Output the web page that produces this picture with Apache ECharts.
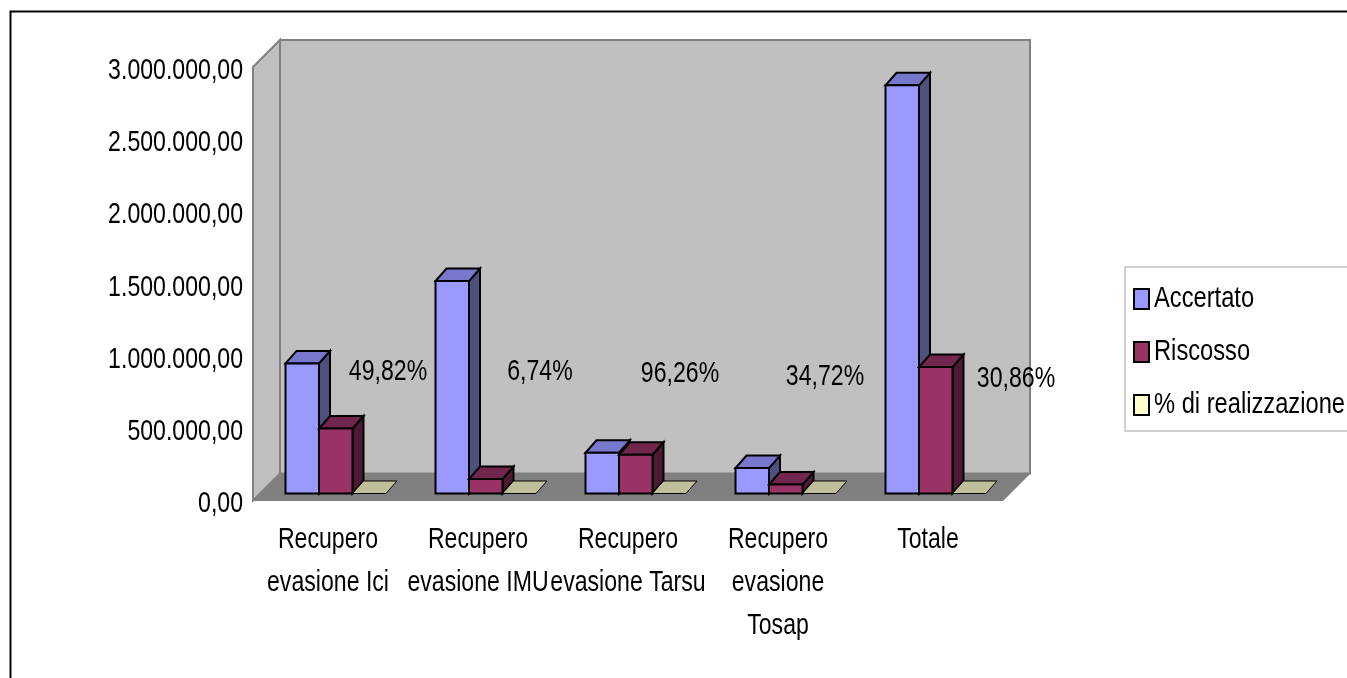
<!DOCTYPE html>
<html>
<head>
<meta charset="utf-8">
<style>html,body{margin:0;padding:0;background:#fff;overflow:hidden}#c{width:1347px;height:678px}</style>
<script src="https://cdn.jsdelivr.net/npm/echarts@6/dist/echarts.min.js"></script>
</head>
<body>
<div id="c"></div>
<script>
var categories = ['Recupero\nevasione Ici', 'Recupero\nevasione IMU', 'Recupero\nevasione Tarsu', 'Recupero\nevasione\nTosap', 'Totale'];
var seriesNames = ['Accertato', 'Riscosso', '% di realizzazione'];
var accertato = [900000, 1470000, 282000, 176000, 2825000];
var riscosso = [450000, 100000, 268000, 62000, 875000];
var realizzazione = [49.82, 6.74, 96.26, 34.72, 30.86];

var FONT = '"Liberation Sans",Arial,sans-serif';
var FS = 30;
var TEXT_SQUEEZE = 0.77, LEGEND_SQUEEZE = 0.79, YLABEL_SHIFT = 3.5;
var pctLabelDx = [60, 62, 52, 47, 88];
var pctLabelY = [372, 372, 374, 377, 379];
var DEPTH_WALL = 27, BAR_DX = 11, BAR_DY = 12.5, BASE_DY = 7, GROUP_LEFT = 0.2833, BAR_W = 0.2233;

function pctText(v) { return v.toFixed(2).replace('.', ',') + '%'; }
function itNum(v) {
  var s = String(Math.round(v)).replace(/\B(?=(\d{3})+$)/g, '.');
  return s + ',00';
}
function poly(points, fill, stroke, lw) {
  return { type: 'polygon', shape: { points: points }, style: { fill: fill, stroke: stroke || null, lineWidth: lw || 0, lineJoin: 'miter' } };
}
function barRenderer(k, front, top, side) {
  return function (params, api) {
    var i = api.value(0), v = api.value(1);
    var p0 = api.coord([i, 0]), p1 = api.coord([i, v]);
    var band = api.size([1, 0])[0];
    var w = band * BAR_W;
    var x0 = p0[0] - band * GROUP_LEFT + k * w, x1 = x0 + w;
    var yb = p0[1] - BASE_DY, yt = p1[1] - BASE_DY;
    var dx = BAR_DX, dy = BAR_DY;
    return { type: 'group', children: [
      poly([[x1, yb], [x1 + dx, yb - dy], [x1 + dx, yt - dy], [x1, yt]], side, '#000', 2),
      poly([[x0, yt], [x1, yt], [x1 + dx, yt - dy], [x0 + dx, yt - dy]], top, '#000', 2),
      poly([[x0, yb], [x1, yb], [x1, yt], [x0, yt]], front, '#000', 2)
    ] };
  };
}
function wallRenderer(params, api) {
  var cs = params.coordSys;
  var l = cs.x, r = cs.x + cs.width, t = cs.y, b = cs.y + cs.height, d = DEPTH_WALL;
  return { type: 'group', children: [
    poly([[l, t], [l + d, t - d], [l + d, b - d], [l, b]], '#C0C0C0', '#808080', 2),
    poly([[l + d, t - d], [r + d, t - d], [r + d, b - d], [l + d, b - d]], '#C0C0C0', '#808080', 2),
    poly([[l, b], [l + d, b - d], [r + d, b - d], [r, b]], '#808080', '#808080', 1)
  ] };
}
function pctRenderer(params, api) {
  var i = api.value(0), v = api.value(1);
  var p0 = api.coord([i, 0]), p1 = api.coord([i, v]);
  var band = api.size([1, 0])[0];
  var w = band * BAR_W;
  var x0 = p0[0] - band * GROUP_LEFT + 2 * w, x1 = x0 + w;
  var yb = p1[1] - BASE_DY;
  return { type: 'group', children: [
    poly([[x0, yb], [x1, yb], [x1 + BAR_DX, yb - BAR_DY], [x0 + BAR_DX, yb - BAR_DY]], '#BFBF99', '#000', 1),
    { type: 'text', style: { x: p0[0] + pctLabelDx[i], y: pctLabelY[i], text: pctText(realizzazione[i]), fill: '#000', font: FS + 'px ' + FONT, align: 'center', verticalAlign: 'middle' } }
  ] };
}
function pairs(a) { return a.map(function (v, i) { return [i, v]; }); }

var chart = echarts.init(document.getElementById('c'), null, { renderer: 'canvas' });
chart.setOption({
  animation: false,
  backgroundColor: '#fff',
  textStyle: { fontFamily: FONT },
  grid: { left: 253, right: 344, top: 67, bottom: 177.5, containLabel: false },
  graphic: [{ type: 'polyline', shape: { points: [[10.5, 678], [10.5, 11.5], [1347, 11.5]] }, style: { stroke: '#000', lineWidth: 2, fill: null }, z: 0 }],
  xAxis: {
    type: 'category', data: categories,
    axisLine: { show: false }, axisTick: { show: false }, splitLine: { show: false },
    axisLabel: { interval: 0, margin: 18, color: '#000', fontFamily: FONT, fontSize: FS, lineHeight: 43, hideOverlap: false, verticalAlign: 'top' }
  },
  yAxis: {
    type: 'value', min: 0, max: 3000000, interval: 500000,
    axisLine: { show: false }, axisTick: { show: false }, splitLine: { show: false },
    axisLabel: { margin: 10, color: '#000', fontFamily: FONT, fontSize: FS, formatter: itNum }
  },
  legend: {
    orient: 'vertical', left: 1125, top: 267, padding: [17, 10, 11, 8], itemGap: 23,
    itemWidth: 15, itemHeight: 20, backgroundColor: '#fff', borderColor: '#C0C0C0', borderWidth: 1.5,
    textStyle: { color: '#000', fontFamily: FONT, fontSize: FS },
    selectedMode: false,
    data: [
      { name: seriesNames[0], icon: 'rect', itemStyle: { color: '#9999FF', borderColor: '#000', borderWidth: 2 } },
      { name: seriesNames[1], icon: 'rect', itemStyle: { color: '#993366', borderColor: '#000', borderWidth: 2 } },
      { name: seriesNames[2], icon: 'rect', itemStyle: { color: '#FFFFCC', borderColor: '#000', borderWidth: 2 } }
    ]
  },
  series: [
    { type: 'custom', name: 'pareti', silent: true, clip: false, data: [[0, 0]], renderItem: wallRenderer, z: 1 },
    { type: 'custom', name: seriesNames[0], clip: false, data: pairs(accertato), renderItem: barRenderer(0, '#9999FF', '#7777CC', '#50507F'), itemStyle: { color: '#9999FF' }, z: 2 },
    { type: 'custom', name: seriesNames[1], clip: false, data: pairs(riscosso), renderItem: barRenderer(1, '#993366', '#73264D', '#4D1A33'), itemStyle: { color: '#993366' }, z: 3 },
    { type: 'custom', name: seriesNames[2], clip: false, data: pairs(realizzazione.map(function (p) { return p / 100; })), renderItem: pctRenderer, itemStyle: { color: '#FFFFCC' }, z: 4 }
  ]
});

// The reference text is horizontally condensed: squeeze every text element around its anchor.
var zr = chart.getZr();
zr.storage.traverse(function (el) {
  if (el.type === 'text' && el.style) {
    var t = String(el.style.text);
    el.originX = el.style.x || 0;
    el.scaleX = seriesNames.indexOf(t) >= 0 ? LEGEND_SQUEEZE : TEXT_SQUEEZE;
    if (/,00$/.test(t)) el.y += YLABEL_SHIFT;
    el.markRedraw();
  }
});
zr.refreshImmediately();
</script>
</body>
</html>
